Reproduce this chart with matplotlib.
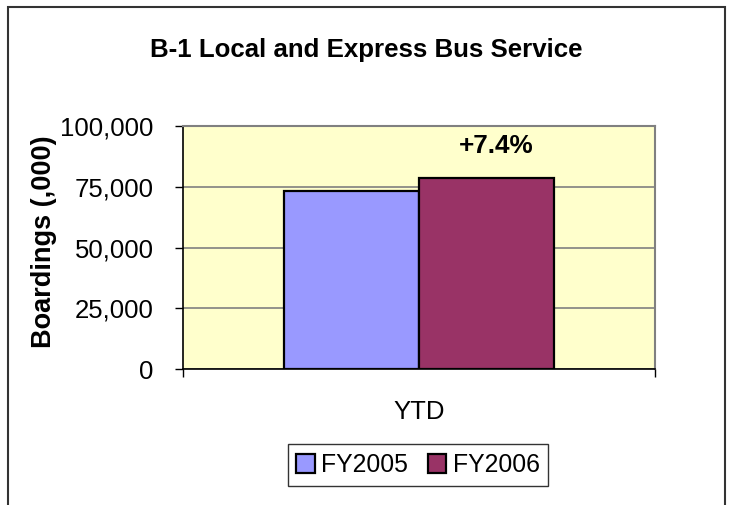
import matplotlib.pyplot as plt
from matplotlib.patches import Rectangle
import numpy as np

plt.rcParams['font.family'] = ['Liberation Sans', 'DejaVu Sans']

# datos
categories = ["YTD"]
series_names = ["FY2005", "FY2006"]
fy2005 = [73200]
fy2006 = [78700]
change_label = "+7.4%"
yticks = [0, 25000, 50000, 75000, 100000]

fig = plt.figure(figsize=(7.32, 5.05), dpi=100)
ax = fig.add_axes([0.25, 0.2693, 0.645, 0.4812])

x = np.arange(len(categories))
w = 0.286
ax.bar(x - w / 2, fy2005, w, color="#9999FF", edgecolor="black", linewidth=1.6,
       label=series_names[0], zorder=3)
ax.bar(x + w / 2, fy2006, w, color="#993366", edgecolor="black", linewidth=1.6,
       label=series_names[1], zorder=3)
ax.text(x[0] + w / 2 + 0.02, 91800, change_label, ha="center", va="center",
        fontsize=18.8, fontweight="bold")

ax.set_facecolor("#FFFFCC")
ax.set_xlim(-0.5, 0.5)
ax.set_ylim(0, 100000)
ax.set_yticks(yticks)
ax.set_yticklabels([f"{v:,}" for v in yticks], fontsize=18.5)
ax.yaxis.grid(True, color="#808080", linewidth=1.2, zorder=0)
ax.tick_params(axis="y", direction="out", length=6, width=1, pad=15)

ax.set_xticks(x)
ax.set_xticklabels(categories, fontsize=18.5)
ax.set_xticks([-0.5, 0.5], minor=True)
ax.tick_params(axis="x", which="major", length=0, pad=22)
ax.tick_params(axis="x", which="minor", direction="out", length=6, width=1)

for s in ["top", "right"]:
    ax.spines[s].set_color("#808080")
    ax.spines[s].set_linewidth(1.5)
ax.spines["left"].set_linewidth(1.2)
ax.spines["bottom"].set_linewidth(1.2)

ax.set_ylabel("Boardings (,000)", fontsize=19.5, fontweight="bold")
ax.yaxis.set_label_coords(-0.267, 0.522)

fig.text(0.5, 0.9, "B-1 Local and Express Bus Service", ha="center", va="center",
         fontsize=18.6, fontweight="bold")

leg = fig.legend(loc="center", bbox_to_anchor=(0.571, 0.079), ncol=2, frameon=True,
                 fancybox=False, edgecolor="black", fontsize=17.8, handlelength=0.75,
                 handleheight=0.75, handletextpad=0.25, columnspacing=0.8,
                 borderpad=0.35, borderaxespad=0)
leg.get_frame().set_linewidth(1.0)

# borde exterior del gráfico
fig.patches.append(Rectangle((8 / 732, -0.05), 717 / 732, 1 - 7 / 505 + 0.05,
                             transform=fig.transFigure, fill=False,
                             edgecolor="#333333", linewidth=1.5))

plt.savefig("out.png", dpi=100)
plt.close()
